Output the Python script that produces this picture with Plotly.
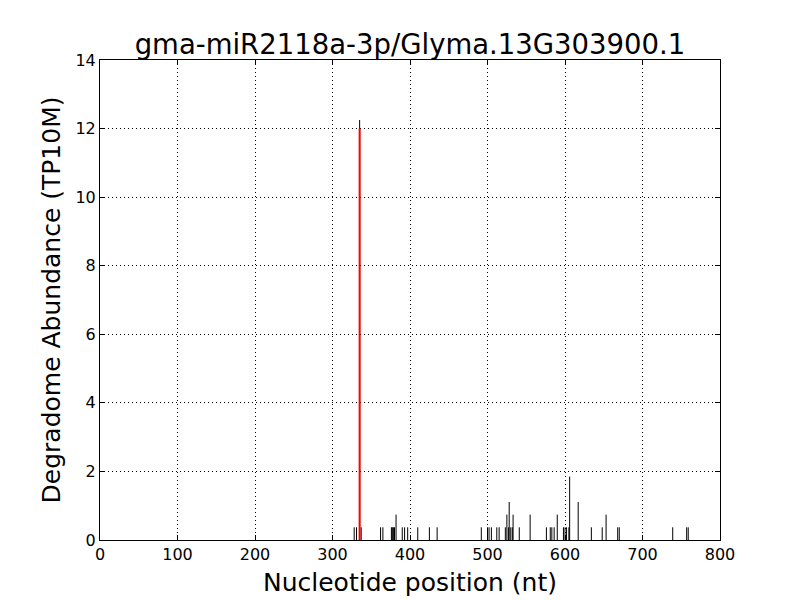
import plotly.graph_objs as go

# degradome read positions (nt) and abundance (TP10M)
positions = [328, 331, 337, 362, 365, 376, 377, 378, 379, 380, 382, 390, 393, 397,
             410, 425, 435, 492, 500, 502, 505, 512, 515, 523, 525, 527, 528, 530,
             532, 533, 541, 555, 576, 581, 583, 586, 590, 598, 600, 602, 605, 606,
             617, 634, 648, 653, 668, 670, 739, 757, 759, 335]
abundance = [0.37, 0.37, 0.37, 0.37, 0.37, 0.37, 0.37, 0.37, 0.37, 0.37, 0.74, 0.37, 0.37, 0.37,
             0.37, 0.37, 0.37, 0.37, 0.37, 0.37, 0.37, 0.37, 0.37, 0.37, 0.74, 0.37, 1.11, 0.37,
             0.37, 0.74, 0.37, 0.74, 0.37, 0.37, 0.37, 0.37, 0.74, 0.37, 0.37, 0.37, 0.37, 1.85,
             1.11, 0.37, 0.37, 0.74, 0.37, 0.37, 0.37, 0.37, 0.37, 12.25]

# cleavage site
site_pos = [335]
site_val = [12.0]

title = 'gma-miR2118a-3p/Glyma.13G303900.1'


def stems(xs, ys):
    sx, sy = [], []
    for x, y in zip(xs, ys):
        sx += [x, x, None]
        sy += [0, y, None]
    return sx, sy


bx, by = stems(positions, abundance)
rx, ry = stems(site_pos, site_val)

fig = go.Figure()
fig.add_trace(go.Scatter(x=bx, y=by, mode='lines',
                         line=dict(color='black', width=1), hoverinfo='skip'))
fig.add_trace(go.Scatter(x=rx, y=ry, mode='lines',
                         line=dict(color='red', width=2), hoverinfo='skip'))

axis = dict(showline=True, linecolor='black', linewidth=1, mirror='allticks',
            ticks='inside', ticklen=5, tickcolor='black',
            showgrid=True, gridcolor='black', griddash='1px,3px', gridwidth=1,
            zeroline=False, automargin=False, tickfont=dict(size=16, color='black'))

# page body has an 8px margin, so the figure is 792x592 starting at (8, 8)
fig.update_layout(
    width=792, height=592,
    paper_bgcolor='white', plot_bgcolor='white',
    font=dict(family='DejaVu Sans', color='black'),
    title=dict(text=title, xref='paper', x=0.5, xanchor='center', y=0.939, yanchor='middle',
               font=dict(size=27.5)),
    margin=dict(l=92, r=80, t=52, b=60, autoexpand=False),
    showlegend=False,
    xaxis=dict(axis, range=[0, 800], dtick=100,
               title=dict(text='Nucleotide position (nt)', font=dict(size=25), standoff=10)),
    yaxis=dict(axis, range=[0, 14], dtick=2,
               title=dict(text='Degradome Abundance (TP10M)', font=dict(size=25), standoff=7)),
)

fig.write_html('out.html')
